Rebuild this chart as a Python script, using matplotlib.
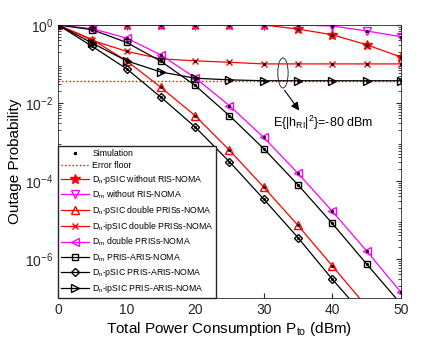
import numpy as np
import matplotlib.pyplot as plt
from matplotlib.patches import Ellipse

plt.rcParams['font.family'] = ['Liberation Sans', 'DejaVu Sans']
plt.rcParams['mathtext.fontset'] = 'custom'
plt.rcParams['mathtext.rm'] = 'Liberation Sans'
plt.rcParams['mathtext.it'] = 'Liberation Sans'

# 横坐标 (dBm)
p_to = [0, 5, 10, 15, 20, 25, 30, 35, 40, 45, 50]

# 各曲线的中断概率
dn_psic_no_ris = [1, 1, 1, 1, 1, 1, 1, 0.78, 0.56, 0.31, 0.15]
dm_no_ris = [1, 1, 1, 1, 1, 1, 1, 1, 0.94, 0.70, 0.50]
dn_psic_double = [1, 0.42, 0.12, 0.025, 4.7e-3, 6.1e-4, 6.9e-5, 7.2e-6, 6.6e-7, 6.0e-8, 6.0e-9]
dn_ipsic_double = [1, 0.40, 0.21, 0.135, 0.12, 0.11, 0.10, 0.10, 0.10, 0.10, 0.10]
dm_double = [1, 0.80, 0.46, 0.17, 0.044, 8.5e-3, 1.3e-3, 1.56e-4, 1.66e-5, 1.6e-6, 1.4e-7]
dm_pa = [1, 0.75, 0.355, 0.117, 0.028, 4.7e-3, 6.7e-4, 7.9e-5, 8.1e-6, 7.4e-7, 7.0e-8]
dn_psic_pa = [1, 0.28, 0.075, 0.014, 2.4e-3, 3.1e-4, 3.4e-5, 3.5e-6, 3.0e-7, 3.0e-8, 3.0e-9]
dn_ipsic_pa = [1, 0.34, 0.12, 0.062, 0.043, 0.039, 0.037, 0.037, 0.037, 0.037, 0.037]
error_floor = 0.037

fig = plt.figure(figsize=(4.43, 3.46), dpi=100)
ax = fig.add_axes([0.131, 0.139, 0.774, 0.789])

# 仿真点
for ys in [dn_psic_no_ris, dm_no_ris, dn_psic_double, dn_ipsic_double,
           dm_double, dm_pa, dn_psic_pa, dn_ipsic_pa]:
    ax.plot(p_to, ys, 'k.', markersize=2.5, zorder=5)
ax.plot([], [], 'k.', markersize=3, label='Simulation')
ax.axhline(error_floor, color='red', linestyle=':', linewidth=1, label='Error floor')

curves = [
    (dn_psic_no_ris, 'red', '*', r'D$_{\rm n}$-pSIC without RIS-NOMA'),
    (dm_no_ris, 'magenta', 'v', r'D$_{\rm m}$ without RIS-NOMA'),
    (dn_psic_double, 'red', '^', r'D$_{\rm n}$-pSIC double PRISs-NOMA'),
    (dn_ipsic_double, 'red', 'x', r'D$_{\rm n}$-ipSIC double PRISs-NOMA'),
    (dm_double, 'magenta', '<', r'D$_{\rm m}$ double PRISs-NOMA'),
    (dm_pa, 'black', 's', r'D$_{\rm m}$ PRIS-ARIS-NOMA'),
    (dn_psic_pa, 'black', 'D', r'D$_{\rm n}$-pSIC PRIS-ARIS-NOMA'),
    (dn_ipsic_pa, 'black', '>', r'D$_{\rm n}$-ipSIC PRIS-ARIS-NOMA'),
]
for ys, c, m, lab in curves:
    if m == '*':
        size = 7
    elif m in ('s', 'D', 'x'):
        size = 4.5
    else:
        size = 6
    ax.plot(p_to, ys, color=c, marker=m, markersize=size,
            markerfacecolor=c if m == '*' else 'none', linewidth=0.9, label=lab)

ax.set_yscale('log')
ax.set_xlim(0, 50)
ax.set_ylim(1e-7, 1)
ax.set_xticks([0, 10, 20, 30, 40, 50])
ax.set_yticks([1, 1e-2, 1e-4, 1e-6])
ax.tick_params(which='both', direction='in', top=True, right=True, labelsize=10, colors='#262626')
for s in ax.spines.values():
    s.set_color('#262626')
    s.set_linewidth(0.6)

ax.set_xlabel(r'Total Power Consumption P$_{\rm to}$ (dBm)', fontsize=11, labelpad=2)
ax.set_ylabel('Outage Probability', fontsize=11, labelpad=2)

# 椭圆与箭头标注 (坐标轴比例坐标)
ax.add_patch(Ellipse((0.656, 0.824), 0.03, 0.11, transform=ax.transAxes,
                     fill=False, linewidth=0.7, edgecolor='#333333'))
ax.annotate('', xy=(0.708, 0.678), xytext=(0.656, 0.769), xycoords='axes fraction',
            arrowprops=dict(arrowstyle='-|>', color='black', lw=0.8, mutation_scale=12))
ax.text(0.627, 0.641, r'E{|h$_{\rm RI}$|$^2$}=-80 dBm', transform=ax.transAxes,
        fontsize=9, va='center')

ax.legend(loc='lower left', fontsize=6.3, handlelength=3.2, borderaxespad=0,
          labelspacing=0.33, frameon=True, fancybox=False, edgecolor='#262626',
          borderpad=0.3, handletextpad=0.4, framealpha=1)

plt.savefig('out.png', dpi=100)
